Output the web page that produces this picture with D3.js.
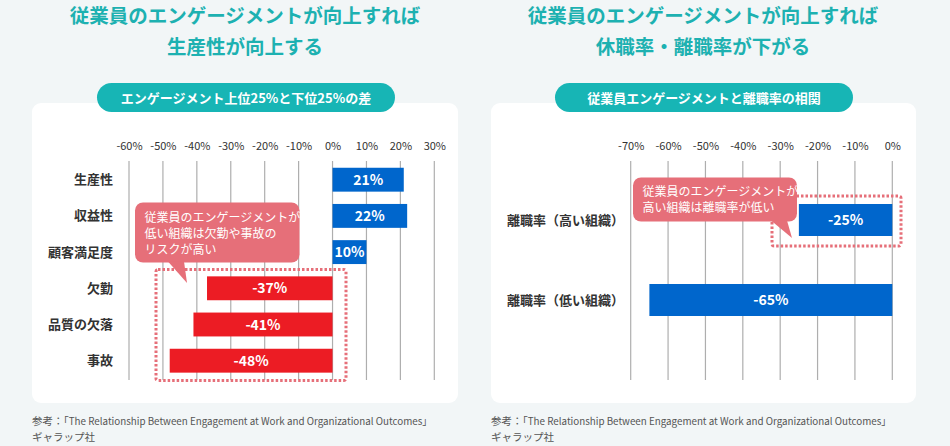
<!DOCTYPE html>
<html><head><meta charset="utf-8">
<script src="https://cdn.jsdelivr.net/npm/d3@7"></script>
<style>
html,body{margin:0;padding:0;background:#f2f6f7;}
svg{display:block;font-family:"Noto Sans CJK JP","Noto Sans",sans-serif;}
</style></head><body>
<svg id="c" width="950" height="446"></svg>
<script>
// ---- data ----
const leftTitle = ["従業員のエンゲージメントが向上すれば", "生産性が向上する"];
const rightTitle = ["従業員のエンゲージメントが向上すれば", "休職率・離職率が下がる"];
const leftSubtitle = "エンゲージメント上位25%と下位25%の差";
const rightSubtitle = "従業員エンゲージメントと離職率の相関";
const leftCategories = ["生産性", "収益性", "顧客満足度", "欠勤", "品質の欠落", "事故"];
const leftValues = [21, 22, 10, -37, -41, -48];
const leftTicks = [-60, -50, -40, -30, -20, -10, 0, 10, 20, 30];
const rightCategories = ["離職率（高い組織）", "離職率（低い組織）"];
const rightValues = [-25, -65];
const rightTicks = [-70, -60, -50, -40, -30, -20, -10, 0];
const leftNote = ["従業員のエンゲージメントが", "低い組織は欠勤や事故の", "リスクが高い"];
const rightNote = ["従業員のエンゲージメントが", "高い組織は離職率が低い"];
const sourcePrefix = "参考：「";
const sourceBody = "The Relationship Between Engagement at Work and Organizational Outcomes」";
const sourceLine2 = "ギャラップ社";

const C = {teal:"#17b5b5", title:"#1db1b1", blue:"#0066cc", red:"#ec1c24", pink:"#e66f79", grid:"#aeaeae", text:"#333"};
const svg = d3.select("#c");

function panel(o){
  const g = svg.append("g");
  // titles
  o.title.forEach((t,i)=>g.append("text").attr("x",o.cx).attr("y",23+i*31).attr("text-anchor","middle")
    .attr("font-size",19.5).attr("font-weight",700).attr("fill",C.title).text(t));
  // card
  g.append("rect").attr("x",o.card[0]).attr("y",103).attr("width",o.card[1]-o.card[0]).attr("height",300)
    .attr("rx",9).attr("fill","#fff");
  // pill
  g.append("rect").attr("x",o.pill[0]).attr("y",83).attr("width",o.pill[1]-o.pill[0]).attr("height",29)
    .attr("rx",14.5).attr("fill",C.teal);
  g.append("text").attr("x",(o.pill[0]+o.pill[1])/2).attr("y",102.5).attr("text-anchor","middle")
    .attr("font-size",13).attr("font-weight",700).attr("fill","#fff").text(o.subtitle);
  // scales
  const x = d3.scaleLinear().domain(o.domain).range(o.xr);
  const y = d3.scaleBand().domain(o.cats).range(o.yr).paddingInner(o.pin).paddingOuter(o.pout);
  // grid
  g.selectAll(".gl").data(o.ticks).join("line").attr("x1",d=>x(d)).attr("x2",d=>x(d))
    .attr("y1",161).attr("y2",380).attr("stroke",C.grid).attr("stroke-width",1.2);
  // axis
  const ax = g.append("g").attr("transform","translate(0,150)")
    .call(d3.axisTop(x).tickValues(o.ticks).tickSize(0).tickPadding(0).tickFormat(d=>d+"%"));
  ax.select(".domain").remove();
  ax.selectAll("text").attr("font-size",11).attr("fill",C.text).attr("font-family","'Noto Sans CJK JP',sans-serif");
  // category labels
  g.selectAll(".cl").data(o.cats).join("text").attr("x",o.labelX).attr("y",d=>y(d)+y.bandwidth()/2+4.5)
    .attr("text-anchor","end").attr("font-size",13).attr("font-weight",700).attr("fill",C.text).text(d=>d);
  // bars
  g.selectAll(".b").data(o.vals).join("rect")
    .attr("x",d=>x(Math.min(0,d))).attr("width",d=>Math.abs(x(d)-x(0)))
    .attr("y",(d,i)=>y(o.cats[i])).attr("height",y.bandwidth())
    .attr("fill",d=>o.color(d));
  g.selectAll(".bl").data(o.vals).join("text")
    .attr("x",d=>(x(d)+x(0))/2).attr("y",(d,i)=>y(o.cats[i])+y.bandwidth()/2+5)
    .attr("text-anchor","middle").attr("font-size",14).attr("font-weight",700).attr("fill","#fff")
    .text(d=>d+"%");
  // dotted box
  const db = o.dot;
  g.append("rect").attr("x",db[0]).attr("y",db[1]).attr("width",db[2]-db[0]).attr("height",db[3]-db[1])
    .attr("rx",2).attr("fill","none").attr("stroke",C.pink).attr("stroke-width",3).attr("stroke-dasharray","2.5,2");
  // callout
  const cb = o.call;
  g.append("rect").attr("x",cb[0]).attr("y",cb[1]).attr("width",cb[2]-cb[0]).attr("height",cb[3]-cb[1])
    .attr("rx",8).attr("fill",C.pink);
  g.append("path").attr("d",`M${o.tail[0]},${cb[3]-1} L${o.tail[1]},${cb[3]-1} L${o.tail[2]},${o.tail[3]} Z`).attr("fill",C.pink);
  o.note.forEach((t,i)=>g.append("text").attr("x",cb[0]+9.5).attr("y",o.noteY+i*16)
    .attr("font-size",12).attr("fill","#fff").text(t));
  // source
  const s1 = g.append("text").attr("x",o.card[0]).attr("y",425).attr("fill","#555");
  s1.append("tspan").attr("font-size",10.5).text(sourcePrefix);
  s1.append("tspan").attr("font-size",9.8).text(sourceBody);
  g.append("text").attr("x",o.card[0]).attr("y",441).attr("font-size",10.5).attr("fill","#555").text(sourceLine2);
}

panel({cx:245, title:leftTitle, subtitle:leftSubtitle, card:[32,458], pill:[97,395],
  domain:[-60,30], xr:[129,434.3], ticks:leftTicks, cats:leftCategories, vals:leftValues,
  yr:[161.6,378.8], pin:0.34, pout:0.17, labelX:113,
  color:d=>d>=0?C.blue:C.red,
  dot:[156,269.5,346,380.5], call:[135,202.5,299.5,262.5], tail:[168,184,187,283], note:leftNote, noteY:221.5});

panel({cx:703, title:rightTitle, subtitle:rightSubtitle, card:[491,916], pill:[555,853],
  domain:[-70,0], xr:[630.7,892.3], ticks:rightTicks, cats:rightCategories, vals:rightValues,
  yr:[180,340], pin:0.6, pout:0.3, labelX:624,
  color:d=>C.blue,
  dot:[772,196,901,246], call:[633,177.5,797,221.5], tail:[771,787,792,238], note:rightNote, noteY:196});
</script>
</body></html>
